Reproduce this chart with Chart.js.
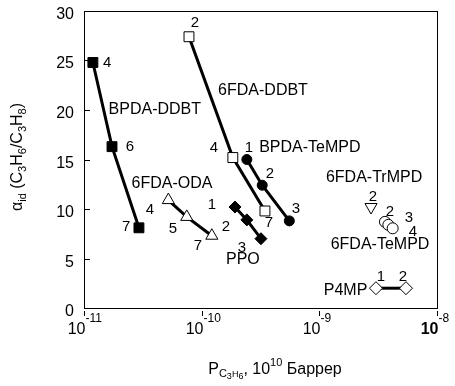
<!DOCTYPE html>
<html>
<head>
<meta charset="utf-8">
<script src="https://cdn.jsdelivr.net/npm/chart.js@4.4.1/dist/chart.umd.min.js"></script>
<style>
  html, body { margin: 0; background: #fff; }
  #wrap { width: 455px; height: 386px; }
</style>
</head>
<body>
<div id="wrap"><canvas id="chart" width="455" height="386"></canvas></div>
<script>
// permeability P(C3H6) and ideal selectivity
const bpdaDdbtX = [1.19e-11, 1.73e-11, 2.93e-11];
const bpdaDdbtY = [24.8, 16.3, 8.1];
const fdaDdbtX = [7.8e-11, 1.84e-10, 3.45e-10];
const fdaDdbtY = [27.4, 15.2, 9.8];
const bpdaTempdX = [2.42e-10, 3.27e-10, 5.56e-10];
const bpdaTempdY = [15.0, 12.4, 8.8];
const ppoX = [1.92e-10, 2.42e-10, 3.19e-10];
const ppoY = [10.2, 8.9, 7.0];
const fdaOdaX = [5.21e-11, 7.47e-11, 1.22e-10];
const fdaOdaY = [10.9, 9.2, 7.3];
const fdaTrmpdX = [2.75e-9];
const fdaTrmpdY = [10.2];
const fdaTempdX = [3.61e-9, 3.86e-9, 4.2e-9];
const fdaTempdY = [8.7, 8.4, 8.05];
const p4mpX = [3.03e-9, 5.45e-9];
const p4mpY = [2.0, 2.0];

const xTicks = [1e-11, 1e-10, 1e-9, 1e-8];
const xTickExp = ['-11', '-10', '-9', '-8'];
const yTicks = [0, 5, 10, 15, 20, 25, 30];

// text labels placed in data coordinates
const labels = [
  ['4', 1.57e-11, 24.8], ['BPDA-DDBT', 4.0e-11, 20.0], ['6', 2.46e-11, 16.3], ['7', 2.28e-11, 8.2],
  ['6FDA-ODA', 5.6e-11, 12.6], ['4', 3.64e-11, 9.9], ['5', 5.7e-11, 8.0], ['7', 9.3e-11, 6.3],
  ['1', 1.22e-10, 10.4], ['2', 1.61e-10, 8.2], ['3', 2.2e-10, 6.1], ['PPO', 2.24e-10, 4.85],
  ['2', 8.77e-11, 28.8], ['6FDA-DDBT', 3.32e-10, 22.0], ['4', 1.27e-10, 16.2], ['7', 3.73e-10, 8.6],
  ['1', 2.52e-10, 16.2], ['BPDA-TeMPD', 8.3e-10, 16.2], ['2', 3.81e-10, 13.6], ['3', 6.34e-10, 10.0],
  ['6FDA-TrMPD', 2.92e-9, 13.2], ['2', 2.86e-9, 11.2],
  ['2', 3.98e-9, 9.7], ['3', 5.78e-9, 9.1], ['4', 6.25e-9, 7.7], ['6FDA-TeMPD', 3.28e-9, 6.4],
  ['P4MP', 1.67e-9, 1.8], ['1', 3.34e-9, 3.1], ['2', 5.14e-9, 3.1]
];

const FONT = '"Liberation Sans", Arial, sans-serif';

function pts(xs, ys) {
  return xs.map((x, i) => ({ x: x, y: ys[i] }));
}

function series(xs, ys, style, radius, filled, line, rot) {
  return {
    data: pts(xs, ys),
    showLine: line,
    borderColor: '#000',
    borderWidth: 3,
    pointStyle: style,
    pointRadius: radius,
    pointRotation: rot || 0,
    pointBackgroundColor: filled ? '#000' : '#fff',
    pointBorderColor: '#000',
    pointBorderWidth: 1,
    clip: false,
  };
}

function richText(ctx, parts, x, y, align) {
  let w = 0;
  parts.forEach(p => { ctx.font = p[1] + 'px ' + FONT; w += ctx.measureText(p[0]).width; });
  let cx = align === 'center' ? x - w / 2 : x;
  parts.forEach(p => {
    ctx.font = p[1] + 'px ' + FONT;
    ctx.fillText(p[0], cx, y + p[2]);
    cx += ctx.measureText(p[0]).width;
  });
}

const decorations = {
  id: 'decorations',
  beforeDatasetsDraw(chart) {
    const { ctx, chartArea: a } = chart;
    ctx.save();
    ctx.strokeStyle = '#000';
    ctx.lineWidth = 1;
    ctx.strokeRect(a.left + 0.5, a.top + 0.5, a.right - a.left, a.bottom - a.top);
    ctx.restore();
  },
  afterDatasetsDraw(chart) {
    const { ctx, chartArea: a, scales: { x, y } } = chart;
    ctx.save();
    ctx.fillStyle = '#000';
    ctx.strokeStyle = '#000';
    ctx.lineWidth = 1;
    ctx.textBaseline = 'alphabetic';

    // y ticks (inward) and labels
    ctx.font = '16px ' + FONT;
    ctx.textAlign = 'right';
    yTicks.forEach(v => {
      const py = Math.round(y.getPixelForValue(v)) + 0.5;
      ctx.beginPath();
      ctx.moveTo(a.left, py);
      ctx.lineTo(a.left + 6, py);
      ctx.stroke();
      ctx.fillText(String(v), a.left - 10, py + 7);
    });

    // x ticks and 10^n labels
    xTicks.forEach((v, i) => {
      const px = Math.round(x.getPixelForValue(v)) + 0.5;
      ctx.beginPath();
      ctx.moveTo(px, a.bottom + 3);
      ctx.lineTo(px, a.bottom + 8);
      ctx.stroke();
      ctx.textAlign = 'right';
      ctx.font = (i === xTicks.length - 1 ? 'bold ' : '') + '16px ' + FONT;
      ctx.fillText('10', px + 1, a.bottom + 26);
      ctx.textAlign = 'left';
      ctx.font = '12px ' + FONT;
      ctx.fillText(xTickExp[i], px + 1, a.bottom + 14);
    });

    // axis titles
    ctx.textAlign = 'left';
    richText(ctx, [['P', 16, 0], ['C', 11, 3], ['3', 9, 5], ['H', 9, 3], ['6', 9, 5],
      [', 10', 16, 0], ['10', 11, -8], [' Баррер', 16, 0]], 275, 374, 'center');

    ctx.save();
    ctx.translate(22, 157);
    ctx.rotate(-Math.PI / 2);
    richText(ctx, [['α', 16, 0], ['id', 11, 4], [' (C', 16, 0], ['3', 11, 4], ['H', 16, 0],
      ['6', 11, 4], ['/C', 16, 0], ['3', 11, 4], ['H', 16, 0], ['8', 11, 4], [')', 16, 0]], 0, 0, 'center');
    ctx.restore();

    // point and series labels
    ctx.textAlign = 'center';
    ctx.textBaseline = 'middle';
    labels.forEach(l => {
      ctx.font = (l[0].length > 1 ? '16px ' : '15px ') + FONT;
      ctx.fillText(l[0], x.getPixelForValue(l[1]), y.getPixelForValue(l[2]));
    });
    ctx.restore();
  }
};

new Chart(document.getElementById('chart'), {
  type: 'scatter',
  data: {
    datasets: [
      series(bpdaDdbtX, bpdaDdbtY, 'rect', 7, true, true),
      series(fdaDdbtX, fdaDdbtY, 'rect', 7, false, true),
      series(bpdaTempdX, bpdaTempdY, 'circle', 5, true, true),
      series(ppoX, ppoY, 'rectRot', 6, true, true),
      series(fdaOdaX, fdaOdaY, 'triangle', 7, false, true),
      series(fdaTrmpdX, fdaTrmpdY, 'triangle', 7, false, false, 180),
      series(fdaTempdX, fdaTempdY, 'circle', 5.5, false, false),
      series(p4mpX, p4mpY, 'rectRot', 6.5, false, true),
    ],
  },
  options: {
    responsive: false,
    devicePixelRatio: 1,
    animation: false,
    layout: { padding: { left: 84, top: 11, right: 18, bottom: 78 } },
    scales: {
      x: { type: 'logarithmic', min: 1e-11, max: 1e-8, display: false },
      y: { type: 'linear', min: 0, max: 30, display: false },
    },
    plugins: { legend: { display: false }, tooltip: { enabled: false } },
  },
  plugins: [decorations],
});
</script>
</body>
</html>
